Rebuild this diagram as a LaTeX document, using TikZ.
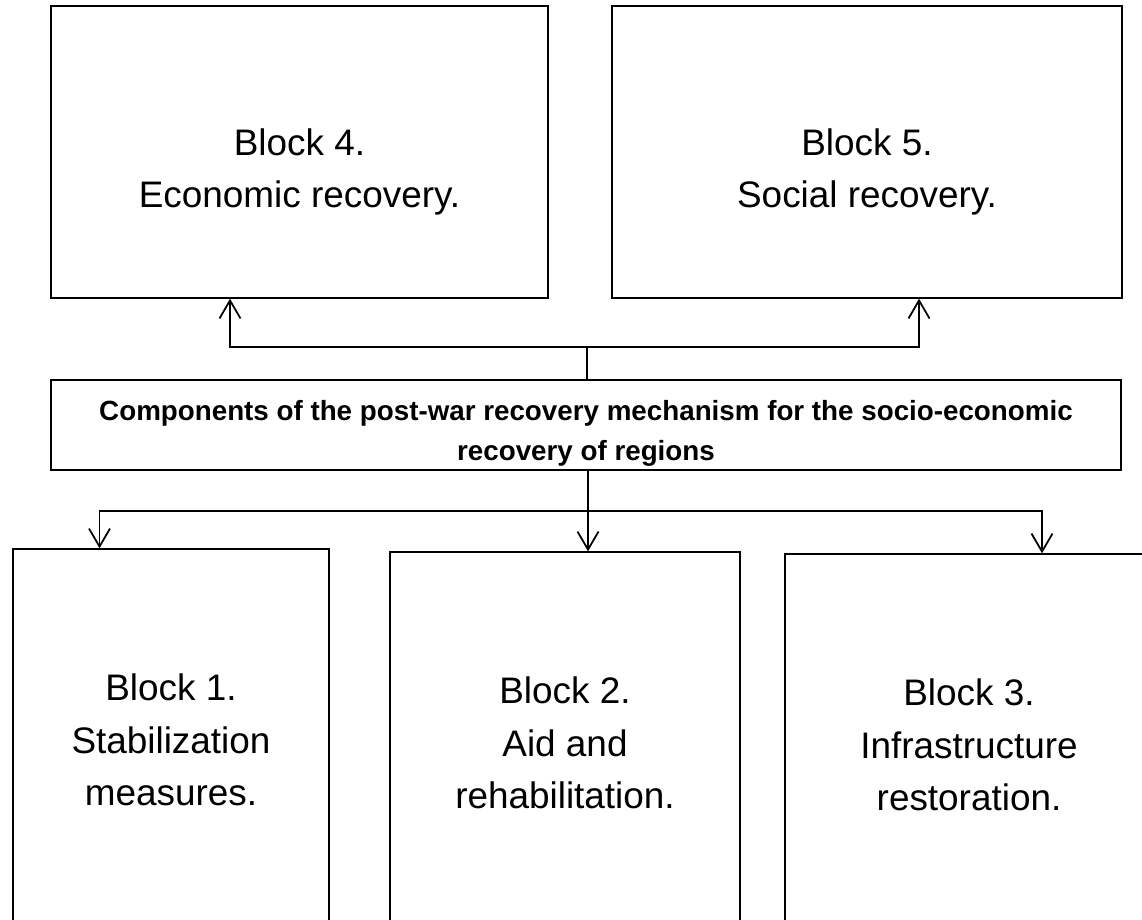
\documentclass[tikz,border=0pt]{standalone}
\usepackage{fontspec}
\setmainfont{Liberation Sans}
\usepackage{tikz}
\usetikzlibrary{shapes,arrows.meta,calc}
\tikzstyle{line} = [draw, line width=1pt, -{Straight Barb[length=3.6mm,width=4.2mm,line width=1pt]}]
\tikzstyle{link} = [draw, line width=1pt]
\tikzstyle{block} = [draw, rectangle, line width=0.8pt, text centered, align=center, font=\fontsize{21}{30}\selectfont]
\tikzstyle{blocktext} = [align=center, font=\fontsize{21}{30}\selectfont]
\tikzstyle{titletext} = [align=center, font=\fontsize{15.8}{22.8}\selectfont\bfseries]

\begin{document}
\begin{tikzpicture}[node distance = 6.3cm, auto]
        \useasboundingbox (0,0) rectangle (22.84,-18.38);
        \clip (0,0) rectangle (22.84,-18.38);
        \node[block, minimum width=21.4cm, minimum height=1.8cm, label={[titletext, yshift=-0.17cm]center:Components of the post-war recovery mechanism for the socio-economic\\recovery of regions}] (comp) at (11.72,-8.50) {};
        \node[block, above of=comp, node distance=5.46cm, xshift=-5.73cm, minimum width=9.94cm, minimum height=5.84cm, label={[blocktext, yshift=-0.4cm]center:Block 4.\\Economic recovery.}] (b4) {};
        \node[block, above of=comp, node distance=5.46cm, xshift=5.62cm, minimum width=10.2cm, minimum height=5.84cm, label={[blocktext, yshift=-0.4cm]center:Block 5.\\Social recovery.}] (b5) {};
        \node[block, below of=comp, node distance=6.30cm, xshift=-8.30cm, minimum width=6.32cm, minimum height=7.64cm] (b1) {Block 1.\\Stabilization\\measures.};
        \node[block, below of=comp, node distance=6.36cm, xshift=-0.42cm, minimum width=7.0cm, minimum height=7.64cm] (b2) {Block 2.\\Aid and\\rehabilitation.};
        \node[block, below of=comp, node distance=6.40cm, xshift=7.66cm, minimum width=7.36cm, minimum height=7.64cm] (b3) {Block 3.\\Infrastructure\\restoration.};
        \path[link] ([xshift=0.02cm]comp.north) -- ++(0,0.64) coordinate (topjoin);
        \path[line] (topjoin) -| ([xshift=-1.39cm]b4.south);
        \path[line] (topjoin) -| ([xshift=1.04cm]b5.south);
        \coordinate (botjoin) at ([xshift=0.04cm, yshift=-0.8cm]comp.south);
        \path[line] ([xshift=0.04cm]comp.south) -- ([xshift=0.46cm]b2.north);
        \path[line] (botjoin) -| ([xshift=-1.43cm]b1.north);
        \path[line] (botjoin) -| ([xshift=1.46cm]b3.north);
    \end{tikzpicture}
\end{document}
